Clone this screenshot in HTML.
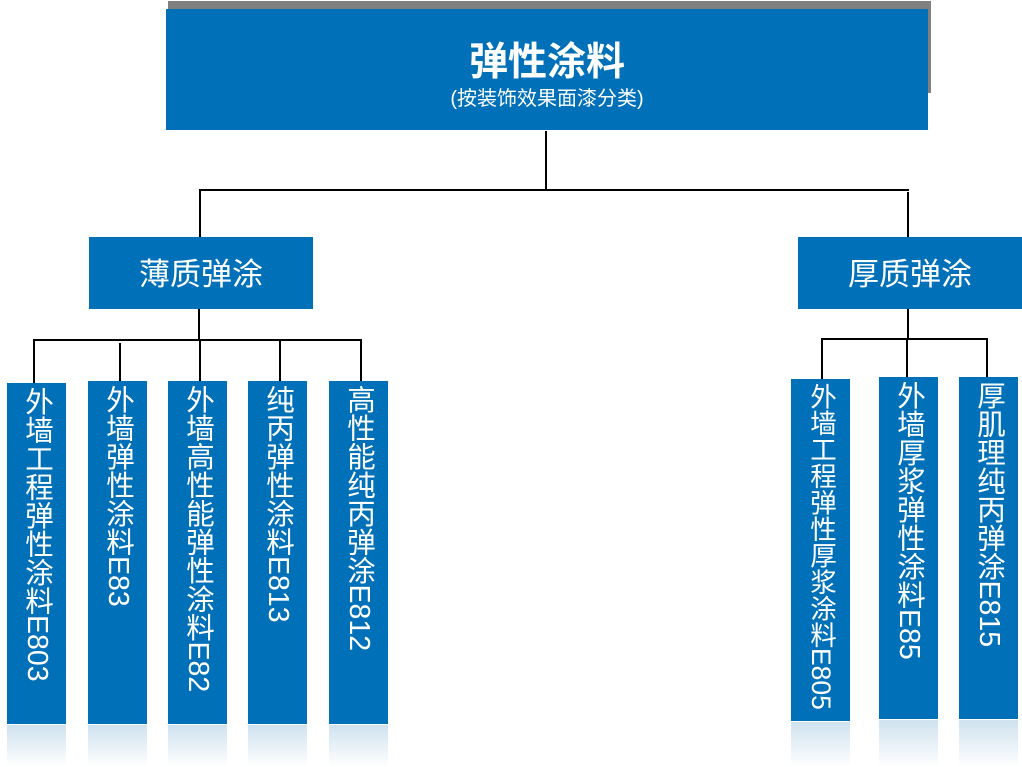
<!DOCTYPE html>
<html><head><meta charset="utf-8"><style>
body{margin:0;width:1022px;height:767px;background:#fff;position:relative;overflow:hidden;font-family:"Liberation Sans","Noto Sans CJK SC",sans-serif}
.b{position:absolute;background:#0070b8;color:#fff}
.v{writing-mode:vertical-rl;font-size:28.5px;line-height:59px;text-align:left;padding-top:4px;box-sizing:border-box;letter-spacing:0;white-space:nowrap}
.r{position:absolute;height:42px;background:linear-gradient(#cfe2ef,#ffffff)}
.l{position:absolute;background:#000}
</style></head><body>
<div style="position:absolute;left:168px;top:1px;width:763px;height:92px;background:#808080"></div>
<div class="b" style="left:166px;top:9px;width:762px;height:121px;text-align:center">
<div style="font-size:39px;font-weight:bold;margin-top:31px;line-height:46px">弹性涂料</div>
<div style="font-size:20px;line-height:24px;margin-top:1px">(按装饰效果面漆分类)</div></div>
<div class="l" style="left:545px;top:131px;width:2px;height:60px"></div>
<div class="l" style="left:199px;top:189px;width:710px;height:2px"></div>
<div class="l" style="left:199px;top:189px;width:2px;height:48px"></div>
<div class="l" style="left:907px;top:192px;width:2px;height:45px"></div>
<div class="b" style="left:89px;top:237px;width:224px;height:72px;font-size:31px;line-height:76px;text-align:center">薄质弹涂</div>
<div class="b" style="left:798px;top:237px;width:224px;height:72px;font-size:31px;line-height:76px;text-align:center">厚质弹涂</div>
<div class="l" style="left:198px;top:309px;width:2px;height:31px"></div>
<div class="l" style="left:33px;top:339px;width:329px;height:2px"></div>
<div class="l" style="left:33px;top:339px;width:2px;height:44px"></div>
<div class="l" style="left:119px;top:343px;width:2px;height:38px"></div>
<div class="l" style="left:199px;top:339px;width:2px;height:42px"></div>
<div class="l" style="left:279px;top:341px;width:2px;height:40px"></div>
<div class="l" style="left:360px;top:339px;width:2px;height:42px"></div>
<div class="l" style="left:907px;top:309px;width:2px;height:30px"></div>
<div class="l" style="left:821px;top:338px;width:167px;height:2px"></div>
<div class="l" style="left:821px;top:338px;width:2px;height:41px"></div>
<div class="l" style="left:906px;top:338px;width:2px;height:39px"></div>
<div class="l" style="left:986px;top:338px;width:2px;height:39px"></div>

<div class="b v" style="left:7px;top:383px;width:59px;height:341px">外墙工程弹性涂料E803</div>
<div class="b v" style="left:88px;top:381px;width:59px;height:343px">外墙弹性涂料E83</div>
<div class="b v" style="left:168px;top:381px;width:59px;height:343px">外墙高性能弹性涂料E82</div>
<div class="b v" style="left:248px;top:381px;width:59px;height:343px">纯丙弹性涂料E813</div>
<div class="b v" style="left:329px;top:381px;width:59px;height:343px">高性能纯丙弹涂E812</div>
<div class="b v" style="left:791px;top:379px;width:59px;height:342px;font-size:26.5px">外墙工程弹性厚浆涂料E805</div>
<div class="b v" style="left:879px;top:377px;width:59px;height:342px">外墙厚浆弹性涂料E85</div>
<div class="b v" style="left:959px;top:377px;width:59px;height:342px">厚肌理纯丙弹涂E815</div>

<div class="r" style="left:7px;top:725px;width:59px"></div>
<div class="r" style="left:88px;top:725px;width:59px"></div>
<div class="r" style="left:168px;top:725px;width:59px"></div>
<div class="r" style="left:248px;top:725px;width:59px"></div>
<div class="r" style="left:329px;top:725px;width:59px"></div>
<div class="r" style="left:791px;top:722px;width:59px;height:45px"></div>
<div class="r" style="left:879px;top:720px;width:59px;height:47px"></div>
<div class="r" style="left:959px;top:720px;width:59px;height:47px"></div>
</body></html>
